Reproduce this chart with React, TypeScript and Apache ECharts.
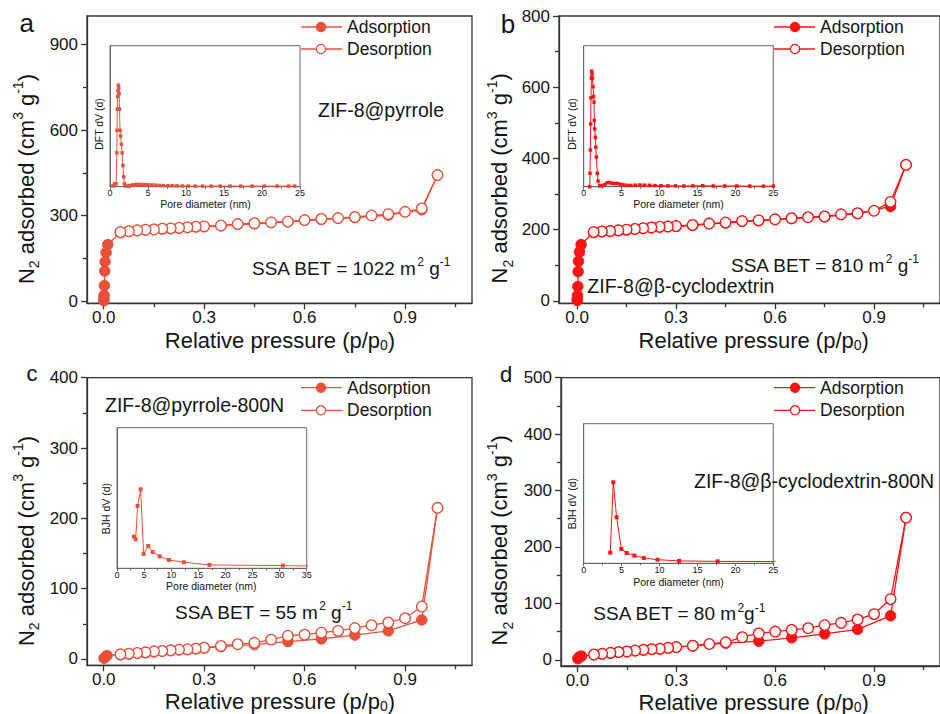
import React, { useEffect, useRef } from 'react';
import * as echarts from 'echarts';

const ORANGE = '#E8503A';
const RED = '#FF1212';
const AXIS = '#333333';
const INSET = '#666666';
const TEXT = '#141414';
const FONT = 'Arial, "Liberation Sans", Helvetica, sans-serif';

// ---------- main isotherm data (relative pressure p/p0, N2 adsorbed cm3/g) ----------
const desorptionP = [0.997, 0.95, 0.9, 0.85, 0.8, 0.75, 0.7, 0.65, 0.6, 0.55, 0.5, 0.45, 0.4, 0.35, 0.3, 0.275, 0.25, 0.225, 0.2, 0.175, 0.15, 0.125, 0.1, 0.075, 0.05];
const adsorptionTailP = [0.05, 0.075, 0.1, 0.125, 0.15, 0.175, 0.2, 0.225, 0.25, 0.275, 0.3, 0.35, 0.45, 0.55, 0.65, 0.75, 0.85, 0.95, 0.997];

// (a) ZIF-8@pyrrole
const adsA_lowP = [0.0002, 0.0005, 0.001, 0.002, 0.003, 0.004, 0.007, 0.012];
const adsA_lowV = [1, 8, 20, 54, 105, 138, 170, 198];
const adsA_tailV = [240, 244, 247, 249, 251, 253, 254, 256, 258, 260, 261, 264, 271, 278, 286, 293, 301, 320, 442];
const desA_V = [442, 325, 313, 305, 300, 295, 291, 288, 284, 279, 276, 273, 270, 265, 262, 261, 259, 257, 255, 254, 251, 250, 248, 245, 242];

// (b) ZIF-8@beta-cyclodextrin
const adsB_lowP = [0.0002, 0.0005, 0.001, 0.002, 0.003, 0.004, 0.007, 0.012];
const adsB_lowV = [1, 5, 15, 40, 82, 111, 137, 158];
const adsB_tailV = [192, 194, 196, 197, 199, 201, 203, 205, 207, 208, 209, 212, 219, 225, 231, 236, 245, 265, 382];
const desB_V = [382, 278, 253, 246, 243, 237, 235, 232, 229, 226, 224, 220, 217, 213, 210, 209, 208, 206, 204, 202, 200, 198, 196, 195, 193];

// (c) ZIF-8@pyrrole-800N
const adsC_lowP = [0.001, 0.005, 0.01];
const adsC_lowV = [1, 3, 5];
const adsC_tailV = [6, 7, 8, 9, 10, 11, 12, 13, 13.5, 14.5, 15.5, 17.5, 20.5, 24.7, 28.5, 34, 40, 55.5, 215];
const desC_V = [215, 74.5, 58, 52, 48, 44, 40, 37.5, 34.6, 33, 27.5, 23, 21, 18.5, 16, 14.7, 13.8, 13.3, 12.3, 11.4, 10.9, 9.5, 8.5, 7.6, 6.6];

// (d) ZIF-8@beta-cyclodextrin-800N
const adsD_lowP = [0.001, 0.005, 0.012];
const adsD_lowV = [2, 5, 6.5];
const adsD_tailV = [9, 10.5, 12, 13.5, 14.5, 16, 17.5, 18.5, 19.5, 21, 22.5, 24.5, 29.5, 33, 39, 46, 54, 78, 252];
const desD_V = [252, 107.6, 81, 71.5, 65.6, 61.5, 56, 53, 50, 46.7, 40, 31, 28, 25, 22.5, 21.3, 19.5, 18.9, 17.7, 16.5, 14.8, 13.6, 12.4, 10.6, 9.5];

// ---------- inset pore size distributions (pore diameter nm, relative dV) ----------
const dftA_D = [0.4, 0.6, 0.8, 0.9, 0.93, 0.96, 1.0, 1.05, 1.1, 1.15, 1.2, 1.25, 1.32, 1.4, 1.5, 1.6, 1.7, 1.8, 1.9, 2.05, 2.3, 2.6, 3.0, 3.4, 3.8, 4.2, 4.6, 5.0, 5.5, 6.0, 6.5, 7.0, 7.6, 8.2, 8.8, 9.5, 10.3, 11.2, 12.2, 13.3, 14.5, 15.8, 17.2, 18.7, 20.3, 22.0, 23.5, 24.3];
const dftA_V = [0.7, 2, 2, 24, 40, 55, 64, 68, 72, 70, 66, 55, 40, 36, 30, 24, 15, 7, 2, 0.7, 0.5, 0.8, 1.3, 1.6, 1.6, 1.5, 1.5, 1.4, 1.3, 1.1, 0.9, 0.8, 0.7, 0.7, 0.6, 0.5, 0.5, 0.4, 0.4, 0.4, 0.4, 0.4, 0.4, 0.4, 0.4, 0.4, 0.4, 0.4];

const dftB_D = [0.79, 0.83, 0.88, 0.92, 0.96, 1.01, 1.05, 1.1, 1.14, 1.23, 1.3, 1.36, 1.4, 1.45, 1.54, 1.6, 1.67, 1.8, 1.89, 2.1, 2.4, 2.8, 3.1, 3.4, 3.7, 4.0, 4.4, 4.8, 5.2, 5.7, 6.2, 6.8, 7.4, 8.0, 8.7, 9.4, 10.2, 11.1, 12.1, 13.2, 14.4, 15.7, 17.1, 18.6, 20.2, 21.9, 23.7, 25.0];
const dftB_V = [0, 9.5, 26, 44.5, 63, 77, 82, 80, 77, 71, 64, 60, 47, 41, 35, 28, 21, 9.5, 4, 0.7, 0.8, 1.5, 2.8, 3.0, 2.5, 2.2, 2.3, 1.8, 1.3, 1.0, 0.9, 1.1, 1.2, 1.1, 1.0, 0.8, 0.7, 0.6, 0.6, 0.5, 0.6, 0.7, 0.5, 0.5, 0.5, 0.4, 0.4, 0.4];

const bjhC_D = [3.13, 3.44, 3.8, 4.36, 4.91, 5.77, 6.57, 7.86, 9.58, 12.34, 17.07, 30.6, 40];
const bjhC_V = [22.5, 20.6, 44.3, 56.2, 10.2, 15.9, 11.6, 8.5, 5.9, 4.3, 2.4, 1.9, 1.5];

const bjhD_D = [3.5, 3.9, 4.34, 4.96, 5.66, 6.68, 7.92, 9.73, 12.57, 17.65, 28];
const bjhD_V = [7.6, 58, 33, 10.3, 7.4, 5.5, 3.8, 2.6, 1.7, 1.4, 1.2];

// ---------- tick values ----------
const xMajorTicks = [0, 0.3, 0.6, 0.9];
const xMinorTicks = [0.15, 0.45, 0.75, 1.05];
const yMajorA = [0, 300, 600, 900];
const yMinorA = [150, 450, 750];
const yMajorB = [0, 200, 400, 600, 800];
const yMinorB = [100, 300, 500, 700];
const yMajorC = [0, 100, 200, 300, 400];
const yMinorC = [50, 150, 250, 350];
const yMajorD = [0, 100, 200, 300, 400, 500];
const yMinorD = [50, 150, 250, 350, 450];

const zip = (xs: number[], ys: number[]) => xs.map((x, i) => [x, ys[i]]);

let measureCtx: CanvasRenderingContext2D | null = null;
function measure(text: string, size: number) {
  if (!measureCtx) measureCtx = document.createElement('canvas').getContext('2d');
  if (!measureCtx) return text.length * size * 0.55;
  measureCtx.font = `${size}px ${FONT}`;
  return measureCtx.measureText(text).width;
}

function buildOption() {
  const panels = [
    {
      color: ORANGE,
      grid: { left: 87, top: 16, width: 385, height: 287.3 },
      x: [-0.05, 1.1], y: [-8, 1000], yMajor: yMajorA, yMinor: yMinorA,
      ads: zip(adsA_lowP.concat(adsorptionTailP), adsA_lowV.concat(adsA_tailV)),
      des: zip(desorptionP, desA_V),
      inset: { grid: { left: 110, top: 45.7, width: 190, height: 141 }, xMax: 25, data: zip(dftA_D, dftA_V), size: 3.5 },
    },
    {
      color: RED,
      grid: { left: 559, top: 16, width: 389, height: 287.3 },
      x: [-0.055, 1.1], y: [-7, 800], yMajor: yMajorB, yMinor: yMinorB,
      ads: zip(adsB_lowP.concat(adsorptionTailP), adsB_lowV.concat(adsB_tailV)),
      des: zip(desorptionP, desB_V),
      inset: { grid: { left: 583.7, top: 45.7, width: 189.6, height: 141 }, xMax: 25, data: zip(dftB_D, dftB_V), size: 3.5 },
    },
    {
      color: ORANGE,
      grid: { left: 87, top: 377.7, width: 385, height: 287.6 },
      x: [-0.05, 1.1], y: [-9, 400], yMajor: yMajorC, yMinor: yMinorC,
      ads: zip(adsC_lowP.concat(adsorptionTailP), adsC_lowV.concat(adsC_tailV)),
      des: zip(desorptionP, desC_V),
      inset: { grid: { left: 117, top: 427.7, width: 189.7, height: 140.6 }, xMax: 35, data: zip(bjhC_D, bjhC_V), size: 4 },
    },
    {
      color: RED,
      grid: { left: 561, top: 377.7, width: 387, height: 288.3 },
      x: [-0.05, 1.1], y: [-11, 500], yMajor: yMajorD, yMinor: yMinorD,
      ads: zip(adsD_lowP.concat(adsorptionTailP), adsD_lowV.concat(adsD_tailV)),
      des: zip(desorptionP, desD_V),
      inset: { grid: { left: 583.7, top: 423.7, width: 189.6, height: 139.6 }, xMax: 25, data: zip(bjhD_D, bjhD_V), size: 4 },
    },
  ];

  const grids: any[] = [];
  const xAxes: any[] = [];
  const yAxes: any[] = [];
  const series: any[] = [];
  const axLine = { color: AXIS, width: 1.3 };
  const inLine = { color: INSET, width: 1 };

  panels.forEach((p) => {
    const gi = grids.length;
    grids.push({ ...p.grid, show: true, borderColor: AXIS, borderWidth: 1.3, containLabel: false });
    const xi = xAxes.length;
    xAxes.push({
      type: 'value', gridIndex: gi, min: p.x[0], max: p.x[1], position: 'bottom',
      axisLine: { show: true, onZero: false, lineStyle: axLine },
      axisTick: { show: true, inside: false, length: 6, customValues: xMajorTicks, lineStyle: axLine },
      axisLabel: { show: true, customValues: xMajorTicks, formatter: (v: number) => v.toFixed(1), fontSize: 17, fontFamily: FONT, color: TEXT, margin: 6, lineHeight: 17 },
      splitLine: { show: false },
    });
    xAxes.push({
      type: 'value', gridIndex: gi, min: p.x[0], max: p.x[1], position: 'bottom',
      axisLine: { show: false, onZero: false },
      axisTick: { show: true, inside: false, length: 4, customValues: xMinorTicks, lineStyle: axLine },
      axisLabel: { show: false },
      splitLine: { show: false },
    });
    const yi = yAxes.length;
    yAxes.push({
      type: 'value', gridIndex: gi, min: p.y[0], max: p.y[1], position: 'left',
      axisLine: { show: true, onZero: false, lineStyle: axLine },
      axisTick: { show: true, inside: false, length: 6, customValues: p.yMajor, lineStyle: axLine },
      axisLabel: { show: true, customValues: p.yMajor, formatter: (v: number) => String(Math.round(v)), fontSize: 17, fontFamily: FONT, color: TEXT, margin: 9 },
      splitLine: { show: false },
    });
    yAxes.push({
      type: 'value', gridIndex: gi, min: p.y[0], max: p.y[1], position: 'left',
      axisLine: { show: false, onZero: false },
      axisTick: { show: true, inside: false, length: 4, customValues: p.yMinor, lineStyle: axLine },
      axisLabel: { show: false },
      splitLine: { show: false },
    });
    series.push({
      type: 'line', xAxisIndex: xi, yAxisIndex: yi, data: p.ads, symbol: 'circle', symbolSize: 10.5,
      lineStyle: { color: p.color, width: 1.3 },
      itemStyle: { color: p.color, borderColor: p.color, borderWidth: 1 },
      z: 3, silent: true,
    });
    series.push({
      type: 'line', xAxisIndex: xi, yAxisIndex: yi, data: p.des, symbol: 'circle', symbolSize: 10.5,
      lineStyle: { color: p.color, width: 1.3 },
      itemStyle: { color: '#ffffff', borderColor: p.color, borderWidth: 1.3 },
      z: 4, silent: true,
    });

    // inset
    const ig = grids.length;
    grids.push({ ...p.inset.grid, show: true, borderColor: INSET, borderWidth: 1, containLabel: false });
    const ixi = xAxes.length;
    xAxes.push({
      type: 'value', gridIndex: ig, min: 0, max: p.inset.xMax, interval: 5, position: 'bottom',
      axisLine: { show: true, onZero: false, lineStyle: inLine },
      axisTick: { show: true, inside: false, length: 3, lineStyle: inLine },
      minorTick: { show: true, splitNumber: 2, length: 2, lineStyle: inLine },
      axisLabel: { show: true, fontSize: 9, fontFamily: FONT, color: TEXT, margin: 2 },
      splitLine: { show: false }, minorSplitLine: { show: false },
    });
    const iyi = yAxes.length;
    yAxes.push({
      type: 'value', gridIndex: ig, min: 0, max: 100, position: 'left',
      axisLine: { show: true, onZero: false, lineStyle: inLine },
      axisTick: { show: false }, axisLabel: { show: false }, splitLine: { show: false },
    });
    series.push({
      type: 'line', xAxisIndex: ixi, yAxisIndex: iyi, data: p.inset.data, symbol: 'rect', symbolSize: p.inset.size,
      lineStyle: { color: p.color, width: 1 },
      itemStyle: { color: p.color },
      clip: true, z: 5, silent: true,
    });
  });

  const supRich = { fontSize: 12, lineHeight: 12, fontFamily: FONT, fill: TEXT, verticalAlign: 'top' };
  const titleRich = {
    sub: { fontSize: 14, lineHeight: 14, fontFamily: FONT, fill: TEXT, verticalAlign: 'bottom' },
    sup: { fontSize: 14, lineHeight: 14, fontFamily: FONT, fill: TEXT, verticalAlign: 'top' },
  };

  const txt = (x: number, y: number, text: string, fontSize: number, extra: any = {}) => ({
    type: 'text', x, y, z: 100, silent: true, rotation: extra.rotation || 0,
    style: {
      text, fontSize, fontFamily: FONT, fill: TEXT, align: extra.align || 'left', verticalAlign: 'middle',
      lineHeight: extra.lineHeight || Math.round(fontSize * 1.15), rich: extra.rich,
    },
  });

  const graphic: any[] = [];
  // panel letters
  graphic.push(txt(26.7, 23, 'a', 26, { align: 'center' }));
  graphic.push(txt(508, 24, 'b', 26, { align: 'center' }));
  graphic.push(txt(32, 373.5, 'c', 22, { align: 'center' }));
  graphic.push(txt(506, 374.5, 'd', 22, { align: 'center' }));

  // x axis titles: "Relative pressure (p/p0)" with subscript 0, built from three pieces
  const xMain = 'Relative pressure (p/p';
  const w1 = measure(xMain, 22);
  const w2 = measure('0', 14);
  const w3 = measure(')', 22);
  const xTitlePos = [[280, 340], [753.7, 340], [280, 701], [753.7, 702]];
  xTitlePos.forEach(([cx, cy]) => {
    const start = cx - (w1 + w2 + w3) / 2;
    graphic.push(txt(start, cy, xMain, 22, { lineHeight: 22 }));
    graphic.push(txt(start + w1, cy + 5, '0', 14, { lineHeight: 12 }));
    graphic.push(txt(start + w1 + w2, cy, ')', 22, { lineHeight: 22 }));
  });

  // y axis titles (rotated)
  const yTitle = 'N{sub|2} adsorbed (cm{sup|3} g{sup|-1})';
  const yTitlePos = [[26, 179], [499.5, 178.3], [26, 541], [499.5, 540.3]];
  yTitlePos.forEach(([x, y]) => graphic.push(txt(x, y, yTitle, 22, { align: 'center', lineHeight: 30, rich: titleRich, rotation: Math.PI / 2 })));

  // legends
  const legendPos = [
    { x1: 301, x2: 342, cx: 321, tx: 347, y1: 27, y2: 49, color: ORANGE },
    { x1: 774, x2: 815, cx: 795, tx: 820, y1: 27, y2: 49, color: RED },
    { x1: 301, x2: 342, cx: 321, tx: 347, y1: 387.7, y2: 410.3, color: ORANGE },
    { x1: 774, x2: 815, cx: 795, tx: 820, y1: 387.7, y2: 410.3, color: RED },
  ];
  legendPos.forEach((l) => {
    [l.y1, l.y2].forEach((y, k) => {
      graphic.push({ type: 'line', z: 100, silent: true, shape: { x1: l.x1, y1: y, x2: l.x2, y2: y }, style: { stroke: l.color, lineWidth: 1.3 } });
      graphic.push({ type: 'circle', z: 101, silent: true, shape: { cx: l.cx, cy: y, r: 4.6 }, style: { fill: k === 0 ? l.color : '#ffffff', stroke: l.color, lineWidth: 1.3 } });
      graphic.push(txt(l.tx, y, k === 0 ? 'Adsorption' : 'Desorption', 17.5));
    });
  });

  // annotations
  const annRich = { sup: supRich };
  graphic.push(txt(318, 110, 'ZIF-8@pyrrole', 19.5));
  graphic.push(txt(252, 268, 'SSA BET = 1022 m{sup|2} g{sup|-1}', 19, { rich: annRich, lineHeight: 24 }));
  graphic.push(txt(731, 265, 'SSA BET = 810 m{sup|2} g{sup|-1}', 19, { rich: annRich, lineHeight: 24 }));
  graphic.push(txt(587.3, 286, 'ZIF-8@β-cyclodextrin', 19.5));
  graphic.push(txt(105, 405.3, 'ZIF-8@pyrrole-800N', 19.5));
  graphic.push(txt(175, 612, 'SSA BET = 55 m{sup|2} g{sup|-1}', 19, { rich: annRich, lineHeight: 24 }));
  graphic.push(txt(694, 481, 'ZIF-8@β-cyclodextrin-800N', 19.5));
  graphic.push(txt(593.3, 613.7, 'SSA BET = 80 m{sup|2}g{sup|-1}', 19, { rich: annRich, lineHeight: 24 }));

  // inset titles
  graphic.push(txt(205.5, 204, 'Pore diameter (nm)', 10.5, { align: 'center' }));
  graphic.push(txt(678.5, 204, 'Pore diameter (nm)', 10.5, { align: 'center' }));
  graphic.push(txt(211.3, 586.3, 'Pore diameter (nm)', 10.5, { align: 'center' }));
  graphic.push(txt(678.5, 582.3, 'Pore diameter (nm)', 10.5, { align: 'center' }));
  graphic.push(txt(99, 124, 'DFT dV (d)', 10.5, { align: 'center', rotation: Math.PI / 2 }));
  graphic.push(txt(571.7, 124, 'DFT dV (d)', 10.5, { align: 'center', rotation: Math.PI / 2 }));
  graphic.push(txt(105.7, 508.7, 'BJH dV (d)', 10.5, { align: 'center', rotation: Math.PI / 2 }));
  graphic.push(txt(571.7, 503.7, 'BJH dV (d)', 10.5, { align: 'center', rotation: Math.PI / 2 }));

  return {
    animation: false,
    backgroundColor: '#ffffff',
    grid: grids,
    xAxis: xAxes,
    yAxis: yAxes,
    series,
    graphic,
  };
}

export default function App() {
  const ref = useRef<HTMLDivElement>(null);
  useEffect(() => {
    if (!ref.current) return;
    const chart = echarts.init(ref.current, null, { renderer: 'svg' });
    chart.setOption(buildOption() as any);
    return () => chart.dispose();
  }, []);
  return (
    <div
      ref={ref}
      style={{ position: 'absolute', left: 0, top: 0, width: 940, height: 714, background: '#fff', overflow: 'hidden' }}
    />
  );
}
